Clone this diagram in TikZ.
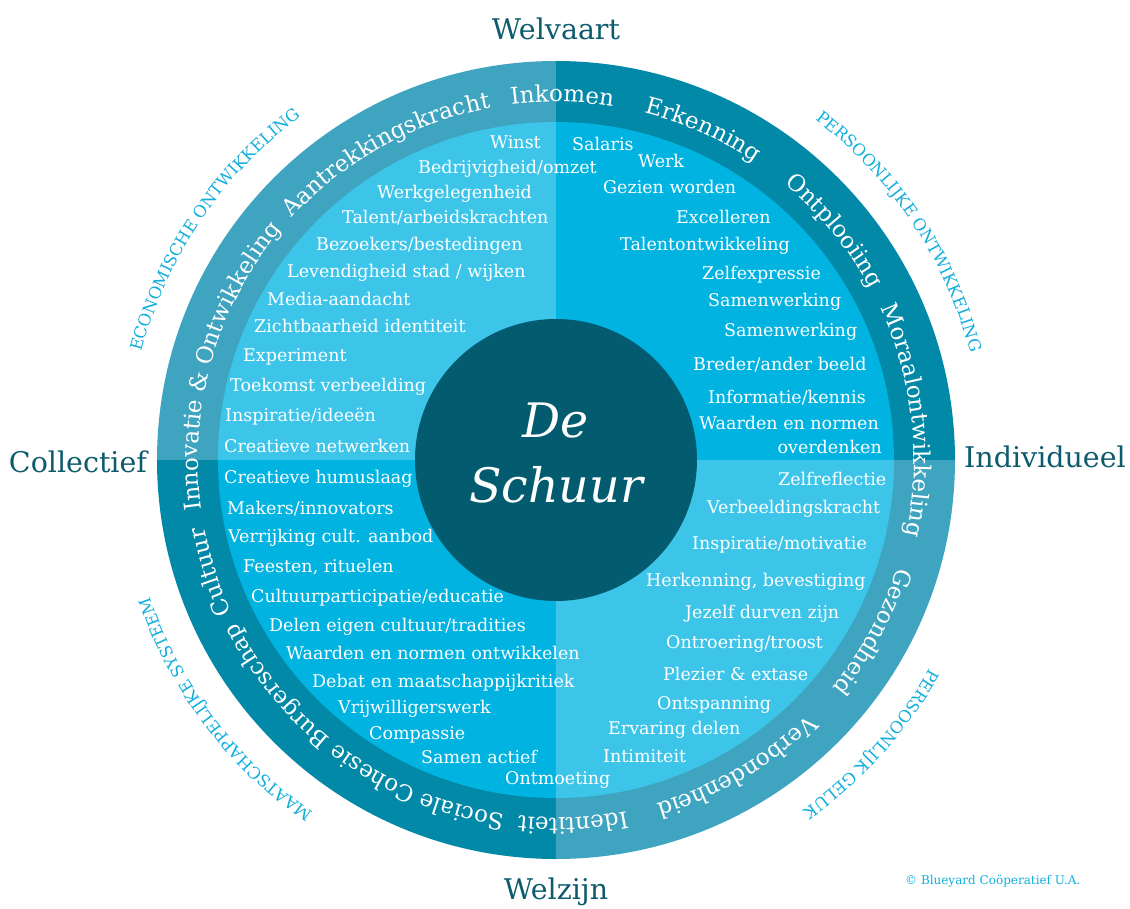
\documentclass[tikz,border=0pt]{standalone}
\usepackage{fontspec}
\setmainfont{DejaVu Serif}
\usepackage{xcolor}
\usetikzlibrary{decorations.text}
\definecolor{ringlight}{HTML}{3FA4BF}
\definecolor{ringdark}{HTML}{0289A8}
\definecolor{fieldlight}{HTML}{3DC5E9}
\definecolor{fielddark}{HTML}{00B3E1}
\definecolor{corecol}{HTML}{035B6F}
\definecolor{axiscol}{HTML}{0D5B6D}
\definecolor{domaincol}{HTML}{12AEDC}
\newcommand{\ringfont}{\fontsize{23}{27}\selectfont}
\newcommand{\domainfont}{\fontsize{16.5}{20}\selectfont}

\begin{document}
\begin{tikzpicture}[
    x=1pt, y=1pt,
    item/.style={text=white,font=\fontsize{17.5}{21}\selectfont,inner sep=0pt,anchor=base west},
    axislabel/.style={text=axiscol,font=\fontsize{28.5}{34}\selectfont,inner sep=0pt,anchor=base},
    centre/.style={text=white,font=\fontsize{47.5}{50}\selectfont\itshape,inner sep=0pt,anchor=base},
    ringtext/.style={decorate,decoration={text along path,text align=center,text color=white,text={|\ringfont|#1}}},
    domaintext/.style={decorate,decoration={text along path,text align=center,text color=domaincol,text={|\domainfont|#1}}}
]
\useasboundingbox (-556,-448) rectangle (574,460);

% --- Ring and fields ---
\fill[ringdark]  (0,0) -- (0:399)   arc[start angle=0,end angle=90,radius=399] -- cycle;
\fill[ringlight] (0,0) -- (90:399)  arc[start angle=90,end angle=180,radius=399] -- cycle;
\fill[ringdark]  (0,0) -- (180:399) arc[start angle=180,end angle=270,radius=399] -- cycle;
\fill[ringlight] (0,0) -- (270:399) arc[start angle=270,end angle=360,radius=399] -- cycle;

\fill[fielddark]  (0,0) -- (0:338)   arc[start angle=0,end angle=90,radius=338] -- cycle;
\fill[fieldlight] (0,0) -- (90:338)  arc[start angle=90,end angle=180,radius=338] -- cycle;
\fill[fielddark]  (0,0) -- (180:338) arc[start angle=180,end angle=270,radius=338] -- cycle;
\fill[fieldlight] (0,0) -- (270:338) arc[start angle=270,end angle=360,radius=338] -- cycle;

% --- Core ---
\node[circle,fill=corecol,minimum size=282pt,inner sep=0pt] (core) at (0,0) {};
\node[centre] (De) at (0,23) {De};
\node[centre] (Schuur) at (0,-42) {Schuur};

% --- Axes ---
\node[axislabel] (Welvaart) at (0,420) {Welvaart};
\node[axislabel] (Welzijn) at (0,-439) {Welzijn};
\node[axislabel] (Collectief) at (-478,-12) {Collectief};
\node[axislabel] (Individueel) at (489,-7) {Individueel};

% --- Ring labels ---
\path[ringtext={Inkomen}] (134:358) arc[start angle=134,end angle=44,radius=358];
\path[ringtext={Aantrekkingskracht}] (164:358) arc[start angle=164,end angle=74,radius=358];
\path[ringtext={Innovatie {\&} Ontwikkeling}] (209:358) arc[start angle=209,end angle=119,radius=358];
\path[ringtext={Erkenning}] (111:358) arc[start angle=111,end angle=21,radius=358];
\path[ringtext={Ontplooiing}] (84.5:358) arc[start angle=84.5,end angle=-5.5,radius=358];
\path[ringtext={Moraalontwikkeling}] (51.5:358) arc[start angle=51.5,end angle=-38.5,radius=358];
\path[ringtext={Gezondheid}] (16.5:358) arc[start angle=16.5,end angle=-73.5,radius=358];
\path[ringtext={Verbondenheid}] (-14.5:358) arc[start angle=-14.5,end angle=-104.5,radius=358];
\path[ringtext={Identiteit}] (-42.3:358) arc[start angle=-42.3,end angle=-132.3,radius=358];
\path[ringtext={Sociale Cohesie}] (-68:358) arc[start angle=-68,end angle=-158,radius=358];
\path[ringtext={Burgerschap}] (-96:358) arc[start angle=-96,end angle=-186,radius=358];
\path[ringtext={Cultuur}] (-117:358) arc[start angle=-117,end angle=-207,radius=358];

% --- Domains ---
\path[domaintext={ECONOMISCHE ONTWIKKELING}] (191:428) arc[start angle=191,end angle=101,radius=428];
\path[domaintext={PERSOONLIJKE ONTWIKKELING}] (78.6:428) arc[start angle=78.6,end angle=-11.4,radius=428];
\path[domaintext={MAATSCHAPPELIJKE SYSTEEM}] (-98:428) arc[start angle=-98,end angle=-188,radius=428];
\path[domaintext={PERSOONLIJK GELUK}] (3:428) arc[start angle=3,end angle=-87,radius=428];

% --- Economische ontwikkeling ---
\node[item] (eco1)  at (-66,311)  {Winst};
\node[item] (eco2)  at (-138,286) {Bedrijvigheid/omzet};
\node[item] (eco3)  at (-179,261) {Werkgelegenheid};
\node[item] (eco4)  at (-214,236) {Talent/arbeidskrachten};
\node[item] (eco5)  at (-240,209) {Bezoekers/bestedingen};
\node[item] (eco6)  at (-269,182) {Levendigheid stad / wijken};
\node[item] (eco7)  at (-289,154) {Media-aandacht};
\node[item] (eco8)  at (-302,127) {Zichtbaarheid identiteit};
\node[item] (eco9)  at (-313,98)  {Experiment};
\node[item] (eco10) at (-326,68)  {Toekomst verbeelding};
\node[item] (eco11) at (-331,38)  {Inspiratie/ideeën};
\node[item] (eco12) at (-332,8)   {Creatieve netwerken};

% --- Persoonlijke ontwikkeling ---
\node[item] (pers1)  at (16,309)  {Salaris};
\node[item] (pers2)  at (82,292)  {Werk};
\node[item] (pers3)  at (47,266)  {Gezien worden};
\node[item] (pers4)  at (120,236) {Excelleren};
\node[item] (pers5)  at (64,209)  {Talentontwikkeling};
\node[item] (pers6)  at (146,180) {Zelfexpressie};
\node[item] (pers7)  at (152,153) {Samenwerking};
\node[item] (pers8)  at (168,123) {Samenwerking};
\node[item] (pers9)  at (137,89)  {Breder/ander beeld};
\node[item] (pers10) at (152,57)  {Informatie/kennis};
\node[item] (pers11) at (143,31)  {Waarden en normen};
\node[item,anchor=base east] (pers12) at (326,7) {overdenken};

% --- Maatschappelijk systeem ---
\node[item] (maat1)  at (-332,-23)  {Creatieve humuslaag};
\node[item] (maat2)  at (-329,-54)  {Makers/innovators};
\node[item] (maat3)  at (-328,-82)  {Verrijking cult. aanbod};
\node[item] (maat4)  at (-313,-112) {Feesten, rituelen};
\node[item] (maat5)  at (-305,-142) {Cultuurparticipatie/educatie};
\node[item] (maat6)  at (-287,-171) {Delen eigen cultuur/tradities};
\node[item] (maat7)  at (-270,-199) {Waarden en normen ontwikkelen};
\node[item] (maat8)  at (-244,-227) {Debat en maatschappijkritiek};
\node[item] (maat9)  at (-218,-253) {Vrijwilligerswerk};
\node[item] (maat10) at (-187,-279) {Compassie};
\node[item] (maat11) at (-135,-303) {Samen actief};
\node[item] (maat12) at (-51,-324)  {Ontmoeting};

% --- Persoonlijk geluk ---
\node[item] (geluk1)  at (222,-25)  {Zelfreflectie};
\node[item] (geluk2)  at (151,-53)  {Verbeeldingskracht};
\node[item] (geluk3)  at (136,-89)  {Inspiratie/motivatie};
\node[item] (geluk4)  at (90,-126)  {Herkenning, bevestiging};
\node[item] (geluk5)  at (129,-158) {Jezelf durven zijn};
\node[item] (geluk6)  at (110,-188) {Ontroering/troost};
\node[item] (geluk7)  at (107,-220) {Plezier \& extase};
\node[item] (geluk8)  at (101,-249) {Ontspanning};
\node[item] (geluk9)  at (52,-274)  {Ervaring delen};
\node[item] (geluk10) at (47,-302)  {Intimiteit};

% Credit
\node[text=domaincol,font=\fontsize{12}{14}\selectfont,inner sep=0pt,anchor=base west] (credit) at (349,-424) {© Blueyard Coöperatief U.A.};
\end{tikzpicture}
\end{document}
